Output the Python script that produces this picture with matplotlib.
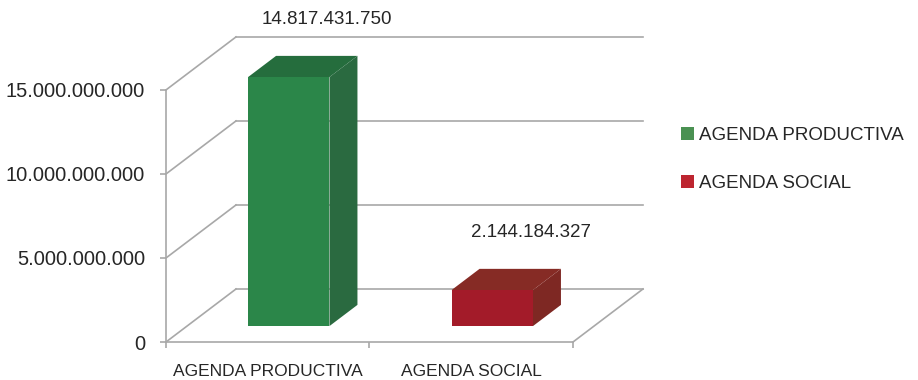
import matplotlib
matplotlib.use("Agg")
import matplotlib.pyplot as plt
from matplotlib.patches import Polygon, Patch
from matplotlib.ticker import FuncFormatter

plt.rcParams['font.family'] = ['Liberation Sans', 'DejaVu Sans']

categories = ["AGENDA PRODUCTIVA", "AGENDA SOCIAL"]
values = [14817431750, 2144184327]
value_labels = ["14.817.431.750", "2.144.184.327"]
yticks = [0, 5e9, 10e9, 15e9]

front_colors = ["#2b8649", "#a31b29"]
top_colors = ["#256d3d", "#862b25"]
side_colors = ["#2a6a40", "#7e2823"]
legend_colors = ["#4a9152", "#bd2530"]
grid_color = "#a8a8a8"

# depth vector of the pseudo-3D box, in data units
DX = 0.344
DY = 3.155e9
D0, D1 = 0.30, 0.70      # bar front / back depth fractions
HALF_W = 0.20

fig = plt.figure(figsize=(9.18, 3.8), dpi=100)
ax = fig.add_axes([166 / 918, 38 / 380, 477 / 918, 305 / 380])
ax.set_xlim(0, 2 + DX)
ax.set_ylim(0, 18.15e9)
for s in ax.spines.values():
    s.set_visible(False)


def P(x, y, d):
    return (x + d * DX, y + d * DY)


lw = 1.2
# left wall diagonals and back wall gridlines
for v in yticks:
    ax.plot([0, DX], [v, v + DY], color=grid_color, lw=lw, clip_on=False, zorder=1)
    ax.plot([DX, 2 + DX], [v + DY, v + DY], color=grid_color, lw=lw, clip_on=False, zorder=1)
# floor edges and front axes
ax.plot([0, 2], [0, 0], color=grid_color, lw=lw, clip_on=False, zorder=1)
ax.plot([2, 2 + DX], [0, DY], color=grid_color, lw=lw, clip_on=False, zorder=1)
ax.plot([0, 0], [0, yticks[-1]], color=grid_color, lw=lw, clip_on=False, zorder=1)

# bars
for i, v in enumerate(values):
    c = i + 0.5
    x0, x1 = c - HALF_W, c + HALF_W
    front = [P(x0, 0, D0), P(x1, 0, D0), P(x1, v, D0), P(x0, v, D0)]
    top = [P(x0, v, D0), P(x1, v, D0), P(x1, v, D1), P(x0, v, D1)]
    side = [P(x1, 0, D0), P(x1, 0, D1), P(x1, v, D1), P(x1, v, D0)]
    ax.add_patch(Polygon(side, closed=True, facecolor=side_colors[i], edgecolor="none", zorder=3))
    ax.add_patch(Polygon(top, closed=True, facecolor=top_colors[i], edgecolor="none", zorder=3))
    ax.add_patch(Polygon(front, closed=True, facecolor=front_colors[i], edgecolor="none", zorder=4))
    lx, ly = P(c, v, 0.85)
    ax.annotate(value_labels[i], (lx, v + D1 * DY), xytext=(0, 36), textcoords="offset pixels",
                ha="center", va="center", fontsize=13.5, color="#262626", annotation_clip=False)

# value axis ticks
ax.set_yticks(yticks)
ax.yaxis.set_major_formatter(FuncFormatter(lambda v, p: f"{int(v):,}".replace(",", ".")))
ax.tick_params(axis="y", length=4, width=1.2, color=grid_color, pad=11, labelsize=14.5,
               labelcolor="#262626")

# category axis
ax.set_xticks([0, 1, 2])
ax.set_xticklabels([])
ax.tick_params(axis="x", length=4, width=1.2, color=grid_color)
for i, name in enumerate(categories):
    ax.annotate(name, (i + 0.5, 0), xytext=(0, -29), textcoords="offset pixels",
                ha="center", va="center", fontsize=12.5, color="#262626", annotation_clip=False)

handles = [Patch(facecolor=legend_colors[i], edgecolor="none", label=categories[i]) for i in range(2)]
fig.legend(handles=handles, loc="upper left", bbox_to_anchor=(664 / 918, 1 - 110 / 380),
           frameon=False, fontsize=13.5, handlelength=0.68, handleheight=0.68,
           handletextpad=0.3, labelspacing=1.65, labelcolor="#262626")

fig.savefig("out.png", dpi=100, facecolor="white")
